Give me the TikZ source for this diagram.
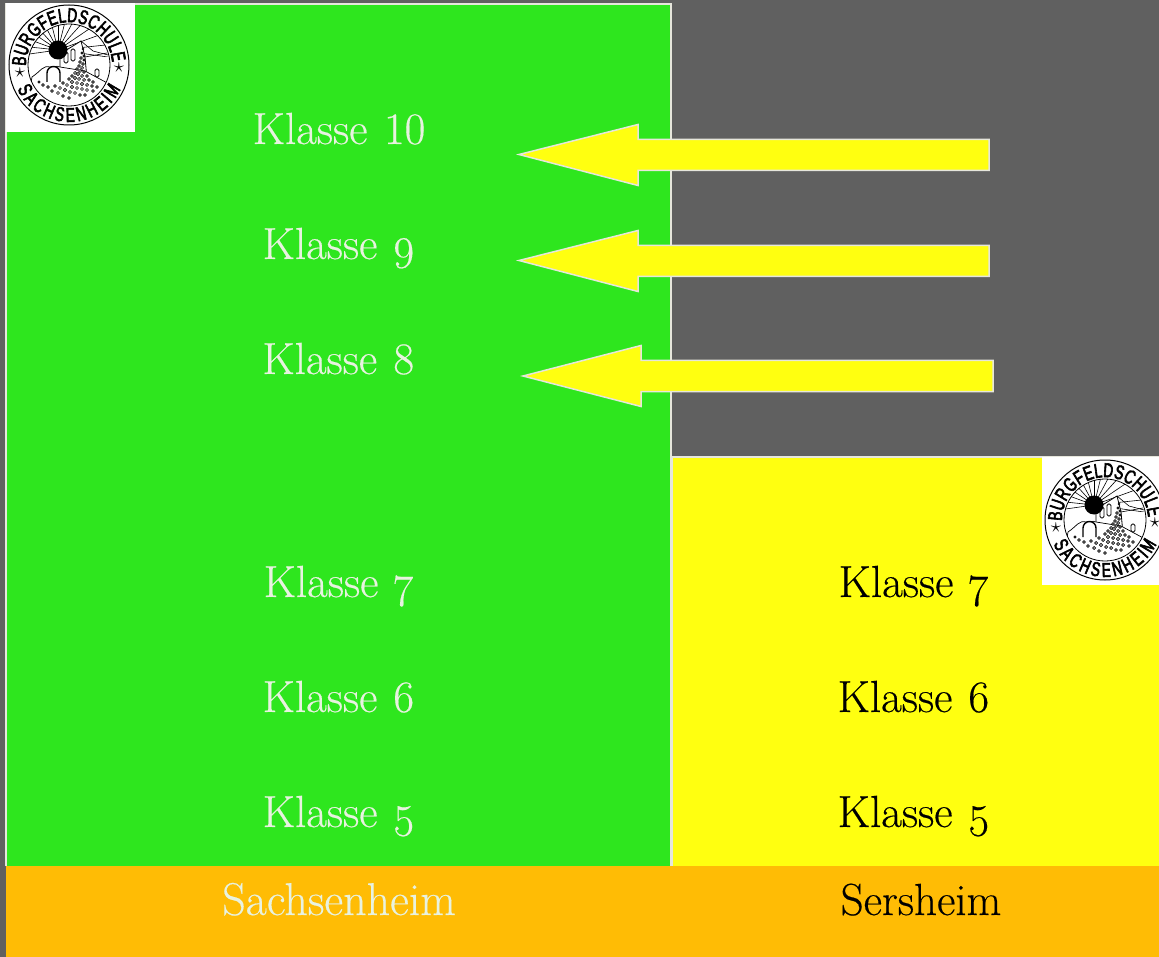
\documentclass[tikz,border=0pt]{standalone}
\usepackage{fontspec}
\setmainfont{Latin Modern Roman}[Numbers=OldStyle,FakeBold=0.35]
\newfontfamily\lining{Latin Modern Roman}[Numbers=Lining,FakeBold=0.35]
\newfontfamily\logofont{Liberation Sans}[FakeBold=3,FakeStretch=0.68]
\usetikzlibrary{decorations.text}
\definecolor{bgdark}{HTML}{606060}
\definecolor{leafgreen}{HTML}{2EE61E}
\definecolor{signalyellow}{HTML}{FFFF10}
\definecolor{amberband}{HTML}{FFBC05}
\definecolor{paleline}{HTML}{E6E6DC}
\definecolor{paletext}{HTML}{E8F2E0}
\newcommand{\logotext}{\logofont\fontsize{20}{20}\selectfont}
\tikzset{
  klasse/.style={anchor=base,inner sep=0pt,font=\fontsize{45}{45}\selectfont},
  klgreen/.style={klasse,text=paletext},
  klblack/.style={klasse,text=black},
  fatarrow/.style={fill=signalyellow,draw=paleline,line width=1.5pt,line join=miter},
  logoline/.style={draw=black,line width=.6pt},
  logostar/.style={text=black,font=\fontsize{20}{20}\selectfont,inner sep=0pt},
  pics/logo/.style={code={
    \draw[black,line width=1pt] (0,0) circle (60);
    \begin{scope}
      \clip (0,0) circle (41);
      \foreach \a in {-8,6,...,190}{
        \draw[logoline] (-11,15) -- ++(\a:60);
      }
      \fill[white] (-42,5) -- (-12,5) -- (42,8) -- (42,-42) -- (-42,-42) -- cycle;
      \draw[black,line width=.8pt,fill=white] (-9,4) -- (-9,11) -- (12,24) -- (16,8) -- (18,-14) -- (-9,-14) -- cycle;
      \draw[black,line width=.6pt] (16,8) -- (38,12);
      \draw[black,line width=.6pt] (12,24) -- (24,14) -- (39,10);
      \draw[black,line width=.9pt,fill=white,rounded corners=1.5pt] (-5,2) rectangle (-1,13);
      \draw[black,line width=.9pt,fill=white,rounded corners=1.5pt] (2,4) rectangle (6,16);
      \draw[black,line width=.7pt,fill=white] (-37,-12) .. controls (-28,-6) and (-26,0) .. (-19,-2) .. controls (-16,-3) and (-13,0) .. (-9,-2) -- (16,-6) -- (42,-20) -- (42,-42) -- (-42,-42) -- cycle;
      \draw[black,line width=1.4pt,fill=white] (-22,-17) -- (-22,-8) arc (180:0:6.5) -- (-9,-17);
      \draw[black,line width=.8pt,fill=white,rounded corners=1.5pt] (26,-12) rectangle (30,-4);
      \foreach \x/\y/\r in {
        14/16/.9,13/12/1.2,15/9/1.1,12/7/1.3,15/5/1.2,11/3/1.3,14/1/1.4,10/-1/1.4,13/-3/1.5,8/-4/1.4,11/-6/1.5,15/-7/1.3,6/-8/1.5,9/-9/1.6,13/-11/1.5,18/-11/1.4,3/-11/1.4,6/-13/1.6,10/-14/1.5,15/-15/1.5,20/-15/1.4,24/-17/1.4,
        0/-14/1.4,3/-17/1.6,8/-18/1.5,13/-19/1.6,18/-20/1.5,23/-21/1.4,28/-22/1.4,
        -6/-18/1.4,-2/-20/1.5,3/-22/1.6,8/-23/1.5,13/-24/1.5,18/-25/1.5,24/-26/1.4,
        -14/-21/1.4,-9/-23/1.5,-4/-25/1.6,1/-27/1.5,6/-28/1.5,11/-30/1.4,16/-30/1.4,-21/-22/1.4,-26/-20/1.4,-17/-26/1.4,-11/-28/1.5,-6/-31/1.4,0/-33/1.4,-30/-17/1.2}{
        \filldraw[black,fill=white,line width=.7pt] (\x,\y) circle (\r);
      }
    \end{scope}
    \fill[black] (-11,15) circle (9.5);
    \draw[black,line width=.8pt] (0,0) circle (41);
    \path[decorate,decoration={text along path,text align={fit to path},
      text={|\logotext|BURGFELDSCHULE}}]
      (-43,-1) arc[start angle=181,end angle=4,radius=43.1];
    \path[decorate,decoration={text along path,text align={fit to path},
      text={|\logotext|SACHSENHEIM}}]
      (-51.7,-24) arc[start angle=205,end angle=335,radius=57];
    \node[logostar] (starl) at (-49,-8) {$\star$};
    \node[logostar] (starr) at (50,-3) {$\star$};
  }}
}
\begin{document}
\begin{tikzpicture}[x=1pt,y=-1pt]
\useasboundingbox (0,0) rectangle (1159,957);
\fill[bgdark] (0,0) rectangle (1159,957);
\fill[leafgreen] (6,4) rectangle (671,866);
\draw[paleline,line width=1.5pt] (6,866) -- (6,4) -- (671,4) -- (671,866);
\fill[signalyellow] (672,457) rectangle (1159,866);
\draw[paleline,line width=1.5pt] (672,866) -- (672,457) -- (1159,457);
\fill[amberband] (6,866) rectangle (1159,957);
\fill[white] (6,3) rectangle (135,132);
\fill[white] (1042,457) rectangle (1159,585);
\begin{scope}
\clip (0,0) rectangle (1159,957);
\begin{scope}[shift={(69,65)},y=1pt]\pic (la) {logo};\end{scope}
\begin{scope}[shift={(1105,520)},y=1pt]\pic (lb) {logo};\end{scope}
\end{scope}
\draw[fatarrow] (519,154.5) -- (638,124.5) -- (638,139.5) -- (989,139.5) -- (989,170.5) -- (638,170.5) -- (638,185.5) -- cycle;
\draw[fatarrow] (519,260.5) -- (638,230.5) -- (638,245.5) -- (989,245.5) -- (989,276.5) -- (638,276.5) -- (638,291.5) -- cycle;
\draw[fatarrow] (523,376) -- (641,345.5) -- (641,360.5) -- (993,360.5) -- (993,391.5) -- (641,391.5) -- (641,406.5) -- cycle;
\node[klgreen] (k10) at (339,144) {Klasse\hspace{3pt} {\lining 10}};
\node[klgreen] (k9) at (339,259) {Klasse\hspace{1pt} 9};
\node[klgreen] (k8) at (339,374) {Klasse\hspace{1pt} 8};
\node[klgreen] (k7) at (339,597) {Klasse\hspace{1pt} 7};
\node[klgreen] (k6) at (339,712) {Klasse\hspace{1pt} 6};
\node[klgreen] (k5) at (339,827) {Klasse\hspace{1pt} 5};
\node[klblack] (s7) at (914,597) {Klasse\hspace{1pt} 7};
\node[klblack] (s6) at (914,712) {Klasse\hspace{1pt} 6};
\node[klblack] (s5) at (914,827) {Klasse\hspace{1pt} 5};
\node[klgreen] (sach) at (339,915) {\fontsize{46}{46}\selectfont Sachsenheim};
\node[klblack] (sers) at (921,915) {Sersheim};
\end{tikzpicture}
\end{document}
